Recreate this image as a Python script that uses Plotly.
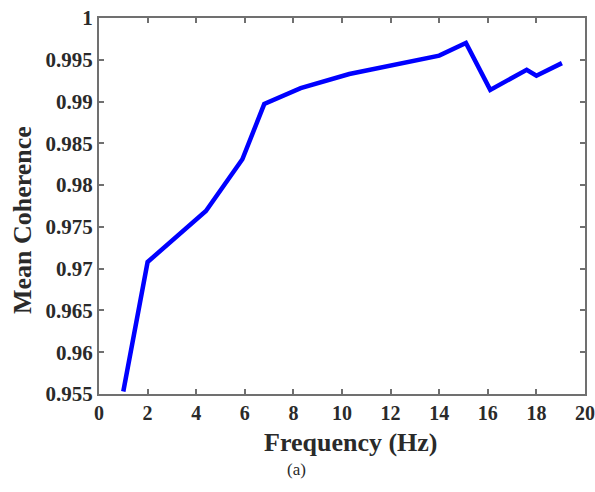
import plotly.graph_objects as go

freq = [1.0, 2.0, 4.4, 5.9, 6.8, 8.3, 10.3, 12.0, 14.0, 15.1, 16.1, 17.6, 18.0, 19.05]
coherence = [0.9553, 0.9708, 0.9769, 0.9831, 0.9897, 0.9916, 0.9933, 0.9943, 0.9955, 0.9970, 0.9914, 0.9938, 0.9931, 0.9946]

x_ticks = [0, 2, 4, 6, 8, 10, 12, 14, 16, 18, 20]
y_ticks = [0.955, 0.96, 0.965, 0.97, 0.975, 0.98, 0.985, 0.99, 0.995, 1.0]
y_tick_text = ["0.955", "0.96", "0.965", "0.97", "0.975", "0.98", "0.985", "0.99", "0.995", "1"]
x_title = "Frequency (Hz)"
y_title = "Mean Coherence"
caption = "(a)"

serif = "Liberation Serif"
txt_color = "#2a2a2a"

fig = go.Figure()
fig.add_trace(go.Scatter(x=freq, y=coherence, mode="lines",
                         line=dict(color="#0000ff", width=4.5),
                         showlegend=False, hoverinfo="skip"))

axis_common = dict(showgrid=False, zeroline=False, showline=True, linecolor="#707070",
                   linewidth=2, mirror="ticks", ticks="inside", ticklen=5,
                   tickcolor="#707070", tickwidth=1.5, automargin=False)

fig.update_layout(
    width=595, height=492,
    margin=dict(l=99, r=10, t=18, b=98),
    paper_bgcolor="white", plot_bgcolor="white",
    font=dict(family=serif, color=txt_color),
    xaxis=dict(range=[0, 20], tickvals=x_ticks, ticktext=["<b>%d</b>" % v for v in x_ticks],
               tickfont=dict(size=20, family=serif, color=txt_color),
               **axis_common),
    yaxis=dict(range=[0.955, 1.0], tickvals=y_ticks, ticktext=["<b>%s</b>" % t for t in y_tick_text],
               tickfont=dict(size=21, family=serif, color=txt_color),
               **axis_common),
    annotations=[
        dict(text="<b>%s</b>" % x_title, xref="paper", yref="paper", x=0.5185, y=-0.130,
             xanchor="center", yanchor="middle", showarrow=False,
             font=dict(size=26, family=serif, color=txt_color)),
        dict(text="<b>%s</b>" % y_title, xref="paper", yref="paper", x=-0.156, y=0.463,
             xanchor="center", yanchor="middle", showarrow=False, textangle=-90,
             font=dict(size=26, family=serif, color=txt_color)),
        dict(text=caption, xref="paper", yref="paper", x=0.407, y=-0.202,
             xanchor="center", yanchor="middle", showarrow=False,
             font=dict(size=17, family=serif, color=txt_color)),
    ],
)

fig.write_html("out.html")
